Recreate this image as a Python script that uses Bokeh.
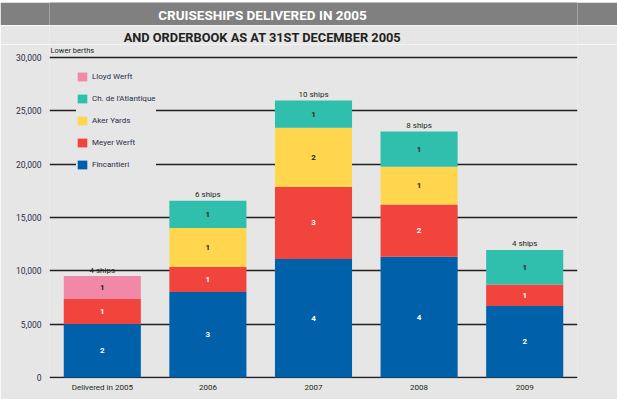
from bokeh.plotting import figure
from bokeh.layouts import column
from bokeh.models import (ColumnDataSource, FactorRange, FixedTicker, NumeralTickFormatter,
                          Legend, LegendItem, Label)
from bokeh.core.properties import value
from bokeh.embed import file_html
from bokeh.resources import INLINE

# ---------------- data ----------------
categories = ["Delivered in 2005", "2006", "2007", "2008", "2009"]
builders = ["Fincantieri", "Meyer Werft", "Aker Yards", "Ch. de l'Atlantique", "Lloyd Werft"]
colors = ["#0060aa", "#f0443c", "#ffd64d", "#30bead", "#f288a8"]

# lower berths per builder
fincantieri = [5000, 8000, 11100, 11300, 6700]
meyer_werft = [2350, 2350, 6750, 4900, 2000]
aker_yards = [0, 3650, 5550, 3550, 0]
ch_atlantique = [0, 2550, 2550, 3300, 3250]
lloyd_werft = [2150, 0, 0, 0, 0]

# number of ships per builder
ships_fincantieri = [2, 3, 4, 4, 2]
ships_meyer = [1, 1, 3, 2, 1]
ships_aker = [0, 1, 2, 1, 0]
ships_ch = [0, 1, 1, 1, 1]
ships_lloyd = [1, 0, 0, 0, 0]

y_ticks = [0, 5000, 10000, 15000, 20000, 25000, 30000]

BG = "#e6e6e6"
BAR = "#808080"
DARK = "#231f20"
NAVY = "#2a2c48"
FONT = "Roboto"

berths = [fincantieri, meyer_werft, aker_yards, ch_atlantique, lloyd_werft]
ships = [ships_fincantieri, ships_meyer, ships_aker, ships_ch, ships_lloyd]
keys = ["fin", "mey", "aker", "ch", "lloyd"]

BORDER = dict(min_border_left=49, min_border_right=40, min_border_top=0, min_border_bottom=0)


def banner(height, fill, text, color, size, y):
    f = figure(width=617, height=height, x_range=(49, 577), y_range=(0, height),
               output_backend="svg", toolbar_location=None,
               x_axis_location=None, y_axis_location=None, **BORDER)
    f.background_fill_color = fill
    f.border_fill_color = fill
    f.outline_line_color = None
    f.grid.visible = False
    if text:
        f.text(x=[262], y=[y], text=[text], text_color=color, text_font=value(FONT),
               text_font_style="bold", text_font_size=size,
               text_align="center", text_baseline="middle")
    return f


strip = banner(2, BG, None, None, None, 0)
head = banner(23, BAR, "CRUISESHIPS DELIVERED IN 2005", "white", "13.5px", 11)
sub = banner(19, BG, "AND ORDERBOOK AS AT 31ST DECEMBER 2005", DARK, "12.8px", 7.5)

# ---------------- main chart ----------------
src = ColumnDataSource(dict(cat=categories, **{k: v for k, v in zip(keys, berths)}))

p = figure(x_range=FactorRange(factors=categories, range_padding=0), y_range=(-100, 31200),
           width=617, height=355, output_backend="svg", toolbar_location=None,
           min_border_left=49, min_border_right=40, min_border_top=0, min_border_bottom=21)
p.background_fill_color = BG
p.border_fill_color = BG
p.outline_line_color = None

renderers = p.vbar_stack(keys, x="cat", width=0.73, fill_color=colors, line_color=None, source=src)

# segment labels
lx, ly, lt, lc = [], [], [], []
for i, c in enumerate(categories):
    base = 0
    for j in range(len(keys)):
        v = berths[j][i]
        if v > 0:
            lx.append(c)
            ly.append(base + v / 2)
            lt.append(str(ships[j][i]))
            lc.append("white" if j in (0, 1) else DARK)
        base += v
p.text(x="cat", y="y", text="t", source=ColumnDataSource(dict(cat=lx, y=ly, t=lt, c=lc)),
       text_color="c", text_align="center", text_baseline="middle",
       text_font=value(FONT), text_font_size="8px", text_font_style="bold")

# totals
totals = [sum(b[i] for b in berths) for i in range(len(categories))]
nships = [sum(s[i] for s in ships) for i in range(len(categories))]
p.text(x="cat", y="y", text="t",
       source=ColumnDataSource(dict(cat=categories, y=totals, t=[f"{n} ships" for n in nships])),
       text_color=DARK, text_align="center", text_baseline="alphabetic", y_offset=-6,
       text_font=value(FONT), text_font_size="8px")

# axes
p.yaxis.ticker = FixedTicker(ticks=y_ticks)
p.yaxis.formatter = NumeralTickFormatter(format="0,0")
for ax in (p.xaxis[0], p.yaxis[0]):
    ax.axis_line_color = None
    ax.major_tick_line_color = None
    ax.minor_tick_line_color = None
    ax.major_tick_out = 0
    ax.major_tick_in = 0
    ax.minor_tick_out = 0
    ax.minor_tick_in = 0
    ax.major_label_text_font = FONT
    ax.major_label_text_font_size = "8px"
    ax.major_label_text_color = NAVY
p.yaxis.major_label_text_font_size = "8.5px"
p.xaxis.major_label_text_color = DARK
p.yaxis.major_label_standoff = 8
p.xaxis.major_label_standoff = 4
p.xgrid.grid_line_color = None
p.ygrid.ticker = FixedTicker(ticks=y_ticks)
p.ygrid.grid_line_color = DARK
p.ygrid.grid_line_width = 1.5
p.ygrid.level = "underlay"

# legend
items = [LegendItem(label=builders[j], renderers=[renderers[j]]) for j in range(4, -1, -1)]
legend = Legend(items=items, location=(27, 208), glyph_width=12, glyph_height=11,
                spacing=11, padding=5, margin=0, label_standoff=4,
                label_text_font=FONT, label_text_font_size="8px", label_text_color=NAVY,
                label_height=11, background_fill_color=BG, background_fill_alpha=1,
                border_line_color=None)
p.add_layout(legend, "center")

# unit label above the top gridline
p.add_layout(Label(x=1, y=30650, x_units="screen", y_units="data",
                   text="Lower berths", text_color=DARK,
                   text_font=FONT, text_font_size="7.5px",
                   text_align="left", text_baseline="middle"))

open("out.html", "w").write(file_html(column(strip, head, sub, p, spacing=0), INLINE))
